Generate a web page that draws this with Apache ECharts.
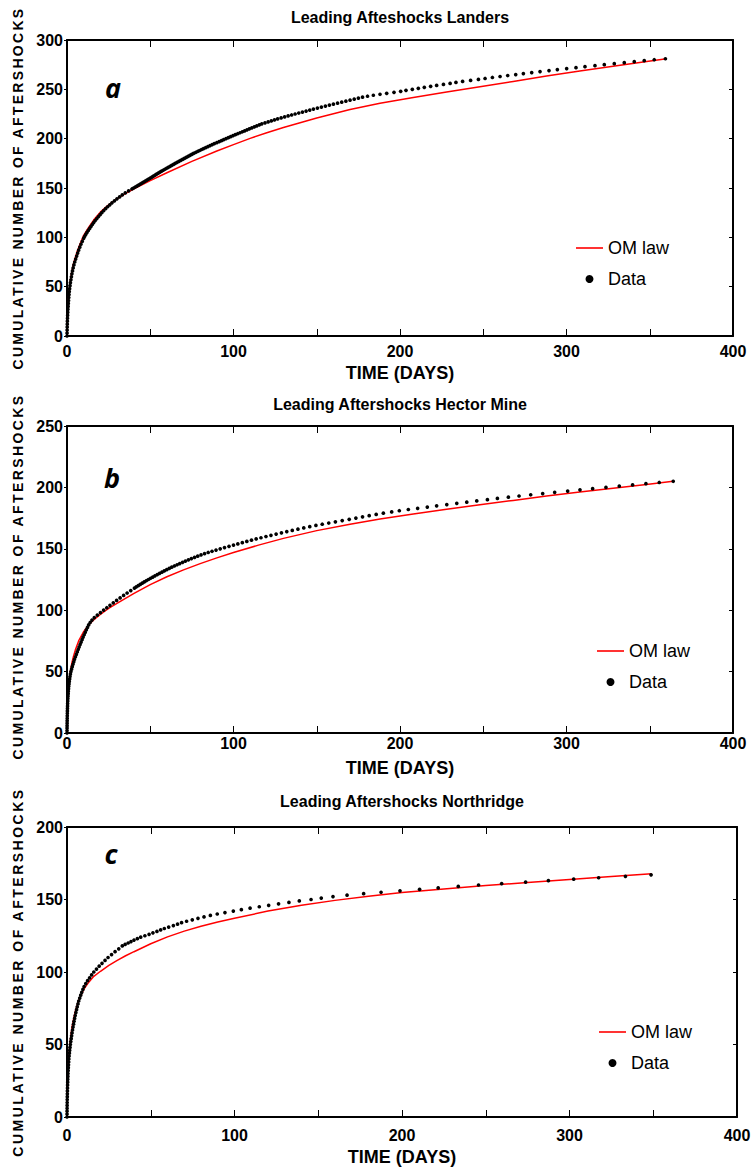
<!DOCTYPE html>
<html>
<head>
<meta charset="utf-8">
<title>Leading aftershocks: cumulative counts and OM law fits</title>
<script src="https://cdn.jsdelivr.net/npm/echarts@6/dist/echarts.min.js"></script>
<style>
  html, body { margin: 0; padding: 0; background: #fff; }
  #wrap { width: 754px; height: 1171px; }
  .panel { width: 754px; overflow: hidden; }
</style>
</head>
<body>
<div id="wrap">
  <div id="panelA" class="panel" style="height:383px"></div>
  <div id="panelB" class="panel" style="height:398px"></div>
  <div id="panelC" class="panel" style="height:390px"></div>
</div>
<script>
// ---- axis text ----
const X_NAME = 'TIME (DAYS)';
const Y_NAME = 'CUMULATIVE NUMBER OF AFTERSHOCKS';
const xTickLabels = [0, 100, 200, 300, 400];
const legendNames = ['OM law', 'Data'];

// ---- Landers: [days, cumulative count] ----
const landersData = [
  [0,0],[0.04,3],[0.08,6],[0.12,9],[0.17,12],[0.23,15],[0.3,18],[0.38,21],[0.47,24],[0.57,27],[0.68,30],[0.8,33],[0.93,36],[1.07,39],[1.22,42],[1.38,45],[1.56,48],[1.8,51],[2.05,54],[2.35,57],[2.65,60],[2.95,63],[3.3,66],[3.7,69],[4.15,72],[4.65,75],[5.2,78],[5.8,81],[6.4,84],[7.0,87],[7.7,90],[8.4,93],[9.2,96],[10.0,99],
  [10.6,101],[11.3,103],[12.0,105],[12.8,107],[13.6,109],[14.4,111],[15.2,113],[16.0,115],[16.9,117],[17.9,119],[18.9,121],[19.9,123],[20.9,125],[22.0,127],[23.2,129],[24.4,131],[25.7,133],[27.0,135],[28.5,137],[30.0,139],[31.6,141],[33.2,143],[35.0,145],[37.0,147],[39.0,149],
  [40.0,150],[41.0,151],[42.0,152],[43.0,153],[44.0,154],[45.0,155],[46.0,156],[47.0,157],[48.0,158],[49.0,159],[50.0,160],[51.0,161],[51.9,162],[52.9,163],[53.8,164],[54.8,165],[55.8,166],[56.8,167],[57.8,168],[58.8,169],
  [59.8,170],[60.8,171],[61.9,172],[62.9,173],[64.0,174],[65.0,175],[66.1,176],[67.2,177],[68.3,178],[69.4,179],[70.5,180],[71.6,181],[72.7,182],[73.8,183],[74.9,184],[76.0,185],[77.2,186],[78.4,187],[79.6,188],[80.8,189],
  [82.0,190],[83.3,191],[84.6,192],[85.9,193],[87.2,194],[88.5,195],[90.0,196],[91.4,197],[92.8,198],[94.1,199],[95.5,200],[96.9,201],[98.3,202],[99.7,203],[101.1,204],[102.5,205],[103.9,206],[105.3,207],[106.7,208],[108.1,209],
  [109.5,210],[111.0,211],[112.5,212],[114.0,213],[115.5,214],[117.0,215],[118.9,216],[120.8,217],[122.7,218],[124.6,219],[126.5,220],[128.6,221],[130.7,222],[132.8,223],[134.9,224],[137.0,225],[139.2,226],[141.4,227],[143.6,228],[145.8,229],
  [148.0,230],[150.4,231],[152.8,232],[155.2,233],[157.6,234],[160.0,235],[162.5,236],[165.0,237],[167.5,238],[170.0,239],[172.5,240],[175.0,241],[177.5,242],[180.5,243],[184.0,244],
  [188.0,245],[192.0,246],[196.4,247],[200.4,248],[203.6,249],[207.4,250],[211.0,251],[214.6,252],[218.4,253],[222.0,254],[226.1,255],[230.1,256],[233.6,257],[237.6,258],[242.4,259],[247.1,260],
  [251.1,261],[255.5,262],[260.1,263],[264.7,264],[269.5,265],[274.1,266],[279.1,267],[284.1,268],[289.5,269],[294.5,270],[300.1,271],[305.7,272],[311.1,273],[317.1,274],[322.7,275],[328.7,276],[334.7,277],[340.7,278],[346.7,279],[352.7,280],[359.4,281]
];
const landersModel = [
  [0,0],[0.1,10],[0.25,18],[0.5,28],[1,40],[1.5,48],[2,56],[3,66],[4,74],[6,85],[8,94],[10,102],[13,110],[16,117.5],[20,125.5],[25,133],[30,139],[35,144.3],[40,149],[50,157.5],[60,165.5],
  [75,177],[90,187.5],[100,194],[110,200.3],[120,206],[130,211.3],[150,221],[170,229.5],[188,236],[208,241.7],[228,247.2],[248,252.6],[268,258],[288,263.4],[308,268.6],[328,273.5],[345,277.5],[360,281]
];

// ---- Hector Mine: [days, cumulative count] ----
const hectorData = [
  [0,0],[0.02,2],[0.04,4],[0.06,6],[0.08,8],[0.1,10],[0.13,12],[0.16,14],[0.2,16],[0.24,18],[0.28,20],[0.33,22],[0.39,24],[0.45,26],[0.52,28],[0.6,30],[0.7,32],[0.8,34],[0.92,36],[1.05,38],[1.2,40],[1.38,42],[1.58,44],[1.8,46],[2.05,48],[2.35,50],
  [2.75,52],[3.15,54],[3.6,56],[4.05,58],[4.5,60],[5.05,62],[5.6,64],[6.15,66],[6.7,68],[7.25,70],[7.85,72],[8.45,74],[9.05,76],[9.65,78],[10.3,80],[10.95,82],[11.6,84],[12.3,86],[13.0,88],[13.9,90],[15.0,92],[16.4,94],[18.2,96],[20.1,98],[22.0,100],
  [23.9,102],[25.8,104],[27.8,106],[29.8,108],[31.9,110],[34.0,112],[36.1,114],[38.3,116],[40.5,118],[41.6,119],[42.8,120],[44.0,121],[45.2,122],[46.4,123],[47.6,124],[48.9,125],[50.2,126],[51.5,127],[52.8,128],[54.2,129],[55.6,130],
  [57.0,131],[58.4,132],[59.9,133],[61.4,134],[62.9,135],[64.5,136],[66.1,137],[67.7,138],[69.4,139],[71.1,140],[72.9,141],[74.7,142],[76.6,143],[78.5,144],[80.5,145],[82.6,146],[84.8,147],[87.1,148],[89.5,149],[92.0,150],
  [94.6,151],[97.3,152],[100.0,153],[102.6,154],[105.3,155],[108.0,156],[110.8,157],[113.6,158],[116.5,159],[119.5,160],[122.5,161],[125.6,162],[128.8,163],[132.0,164],[135.3,165],[138.7,166],[142.2,167],[145.8,168],[149.5,169],[153.3,170],
  [157.2,171],[161.2,172],[165.3,173],[169.5,174],[173.5,175],[177.5,176],[181.5,177],[185.7,178],[190.0,179],[195.0,180],[199.6,181],[205.0,182],[210.6,183],[216.4,184],[222.0,185],[228.1,186],[234.1,187],[240.1,188],[246.1,189],[252.5,190],
  [258.5,191],[265.1,192],[271.5,193],[278.5,194],[285.7,195],[292.9,196],[300.7,197],[308.1,198],[315.7,199],[323.7,200],[331.7,201],[339.7,202],[347.7,203],[355.7,204],[364.1,205]
];
const hectorModel = [
  [0,0],[0.1,10],[0.3,20],[0.6,28],[1,38],[1.5,44],[2,50],[3,57.5],[4,63],[5,67.5],[7,75],[10,82.5],[13,88],[16,92],[20,96.5],[25,101.5],[30,105.5],[40,113.5],[50,120.8],[60,127.2],
  [70,132.8],[80,137.9],[90,142.6],[100,147],[115,153],[130,158.5],[150,164.8],[170,170],[188,174.3],[208,178.4],[228,182.2],[248,185.8],[268,189.4],[288,192.9],[308,196.2],[328,199.3],[348,202.4],[364,205]
];

// ---- Northridge: [days, cumulative count] ----
const northridgeData = [
  [0,0],[0.02,2],[0.04,4],[0.06,6],[0.08,8],[0.1,10],[0.13,12],[0.17,14],[0.21,16],[0.25,18],[0.3,20],[0.35,22],[0.41,24],[0.47,26],[0.53,28],[0.6,30],[0.69,32],[0.79,34],[0.89,36],[0.99,38],[1.1,40],[1.26,42],[1.43,44],[1.61,46],[1.8,48],[2.0,50],
  [2.25,52],[2.5,54],[2.75,56],[3.0,58],[3.3,60],[3.6,62],[3.9,64],[4.2,66],[4.55,68],[4.9,70],[5.3,72],[5.7,74],[6.1,76],[6.55,78],[7.0,80],[7.6,82],[8.2,84],[8.8,86],[9.5,88],[10.2,90],[11.2,92],[12.3,94],[13.5,96],[14.7,98],[16.0,100],
  [17.6,102],[19.2,104],[20.9,106],[22.7,108],[24.5,110],[26.6,112],[28.7,114],[30.9,116],[33.0,118],[34.7,119],[36.5,120],[38.2,121],[40.0,122],[42.0,123],[44.0,124],[46.5,125],[49.0,126],[51.3,127],[53.7,128],[55.9,129],[58.1,130],
  [60.7,131],[63.5,132],[66.0,133],[68.4,134],[71.4,135],[74.8,136],[78.2,137],[81.8,138],[85.6,139],[89.7,140],[94.3,141],[99.3,142],[104.1,143],[109.3,144],[114.8,145],[120.4,146],[126.3,147],[132.5,148],[138.7,149],[145.7,150],
  [151.8,151],[158.8,152],[167.2,153],[177.1,154],[187.5,155],[198.8,156],[210.5,157],[221.6,158],[233.6,159],[245.7,160],[259.5,161],[273.8,162],[287.4,163],[302.5,164],[317.4,165],[333.4,166],[348.7,167]
];
const northridgeModel = [
  [0,0],[0.1,12],[0.3,22],[0.6,31],[1,40],[1.5,47],[2,53],[3,62],[4,68],[5,73],[7,80.5],[10,88],[13,93],[16,97],[20,100.5],[25,104.5],[30,108],[35,111.2],[40,114],[50,119.5],[60,124.2],
  [70,128.2],[80,131.6],[90,134.5],[100,137.1],[120,142],[140,146],[160,149.4],[180,152.3],[200,154.8],[225,157.3],[250,159.6],[275,161.8],[300,163.8],[325,165.8],[349,167.8]
];

const FONT = '"Liberation Sans", Arial, Helvetica, sans-serif';
const INK = '#000';
const RED = '#ff0000';

function axisLine() { return { show: true, onZero: false, lineStyle: { color: INK, width: 2 } }; }

function buildPanel(dom, p) {
  const chart = echarts.init(dom, null, { renderer: 'svg' });
  chart.setOption({
    animation: false,
    backgroundColor: '#fff',
    title: {
      text: p.title, left: p.titleX, top: p.titleTop, textAlign: 'center', padding: 0,
      textStyle: { fontFamily: FONT, fontWeight: 'bold', fontSize: 16, color: INK }
    },
    grid: Object.assign({ containLabel: false, outerBoundsMode: 'none' }, p.grid),
    legend: {
      data: [
        { name: legendNames[0], icon: 'path://M0 0H27V1.6H0Z', itemStyle: { color: RED } },
        { name: legendNames[1], icon: 'circle', itemStyle: { color: INK, opacity: 1 } }
      ],
      orient: 'vertical', left: p.legendLeft, top: p.legendTop, padding: 0,
      itemWidth: 27, itemHeight: 8, itemGap: 11, selectedMode: false,
      textStyle: { fontFamily: FONT, fontSize: 18, color: INK, lineHeight: 20 }
    },
    graphic: [{
      type: 'text', x: p.tagX, y: p.tagY, silent: true,
      style: { text: p.tag, fill: INK, fontFamily: '"Open Sans", "Noto Sans", sans-serif', fontStyle: 'italic', fontWeight: 'bold', fontSize: 27, align: 'center', verticalAlign: 'middle' }
    }],
    xAxis: [{
      type: 'value', position: 'bottom', min: 0, max: 400, interval: 50,
      name: X_NAME, nameLocation: 'middle', nameGap: p.xNameGap,
      nameTextStyle: { fontFamily: FONT, fontWeight: 'bold', fontSize: 18, color: INK },
      axisLine: axisLine(),
      axisTick: { show: true, inside: true, length: 7, lineStyle: { color: INK, width: 1 } },
      axisLabel: {
        margin: p.xLabelMargin, fontFamily: FONT, fontWeight: 'bold', fontSize: 16, color: INK,
        formatter: v => (xTickLabels.indexOf(v) >= 0 ? String(v) : '')
      },
      splitLine: { show: false }
    }, {
      type: 'value', position: 'top', min: 0, max: 400, interval: 50,
      axisLine: axisLine(),
      axisTick: { show: true, inside: true, length: 7, lineStyle: { color: INK, width: 1 } },
      axisLabel: { show: false }, splitLine: { show: false }
    }],
    yAxis: [{
      type: 'value', position: 'left', min: 0, max: p.yMax, interval: 50,
      name: Y_NAME, nameLocation: 'middle', nameGap: p.yNameGap,
      nameTextStyle: { fontFamily: FONT, fontWeight: 'bold', fontSize: 14, color: INK, padding: p.yNamePad },
      axisLine: axisLine(),
      axisTick: { show: true, inside: false, length: 3, lineStyle: { color: INK, width: 1 } },
      axisLabel: { margin: 4, fontFamily: FONT, fontWeight: 'bold', fontSize: 16, color: INK },
      splitLine: { show: false }
    }, {
      type: 'value', position: 'right', min: 0, max: p.yMax, interval: 50,
      axisLine: axisLine(),
      axisTick: { show: true, inside: true, length: 4, lineStyle: { color: INK, width: 1 } },
      axisLabel: { show: false }, splitLine: { show: false }
    }],
    series: [{
      name: legendNames[0], type: 'line', data: p.model, xAxisIndex: 0, yAxisIndex: 0,
      symbol: 'none', showSymbol: false, smooth: false,
      lineStyle: { color: RED, width: 1.5 }, itemStyle: { color: RED }, z: 2
    }, {
      name: legendNames[1], type: 'scatter', data: p.data, xAxisIndex: 0, yAxisIndex: 0,
      symbol: 'circle', symbolSize: 3.7, itemStyle: { color: INK, opacity: 1 }, z: 3
    }]
  });

  // the rotated count label is set with wide letter spacing
  const spaceOut = () => {
    dom.querySelectorAll('text').forEach(t => {
      if (t.textContent === Y_NAME) t.setAttribute('letter-spacing', p.ySpacing);
    });
  };
  chart.on('finished', spaceOut);
  spaceOut();
  setTimeout(spaceOut, 0);
  return chart;
}

buildPanel(document.getElementById('panelA'), {
  title: 'Leading Afteshocks Landers', titleX: 400, titleTop: 9,
  grid: { left: 67, right: 21, top: 40, bottom: 47 },
  yMax: 300, data: landersData, model: landersModel,
  legendLeft: 576, legendTop: 238,
  tag: 'a', tagX: 113, tagY: 87,
  xNameGap: 27, xLabelMargin: 7, yNameGap: 40, yNamePad: [0, 0, 0, 0], ySpacing: 2.3
});
buildPanel(document.getElementById('panelB'), {
  title: 'Leading Aftershocks Hector Mine', titleX: 400, titleTop: 13,
  grid: { left: 67, right: 21, top: 43, bottom: 48 },
  yMax: 250, data: hectorData, model: hectorModel,
  legendLeft: 597, legendTop: 258,
  tag: 'b', tagX: 112, tagY: 94,
  xNameGap: 26, xLabelMargin: 2, yNameGap: 40, yNamePad: [0, 0, 0, 6], ySpacing: 2.4
});
buildPanel(document.getElementById('panelC'), {
  title: 'Leading Aftershocks Northridge', titleX: 402, titleTop: 12,
  grid: { left: 67, right: 17, top: 46, bottom: 54 },
  yMax: 200, data: northridgeData, model: northridgeModel,
  legendLeft: 599, legendTop: 241,
  tag: 'c', tagX: 111, tagY: 72,
  xNameGap: 31, xLabelMargin: 10, yNameGap: 40, yNamePad: [0, 0, 0, 0], ySpacing: 2.5
});
</script>
</body>
</html>
